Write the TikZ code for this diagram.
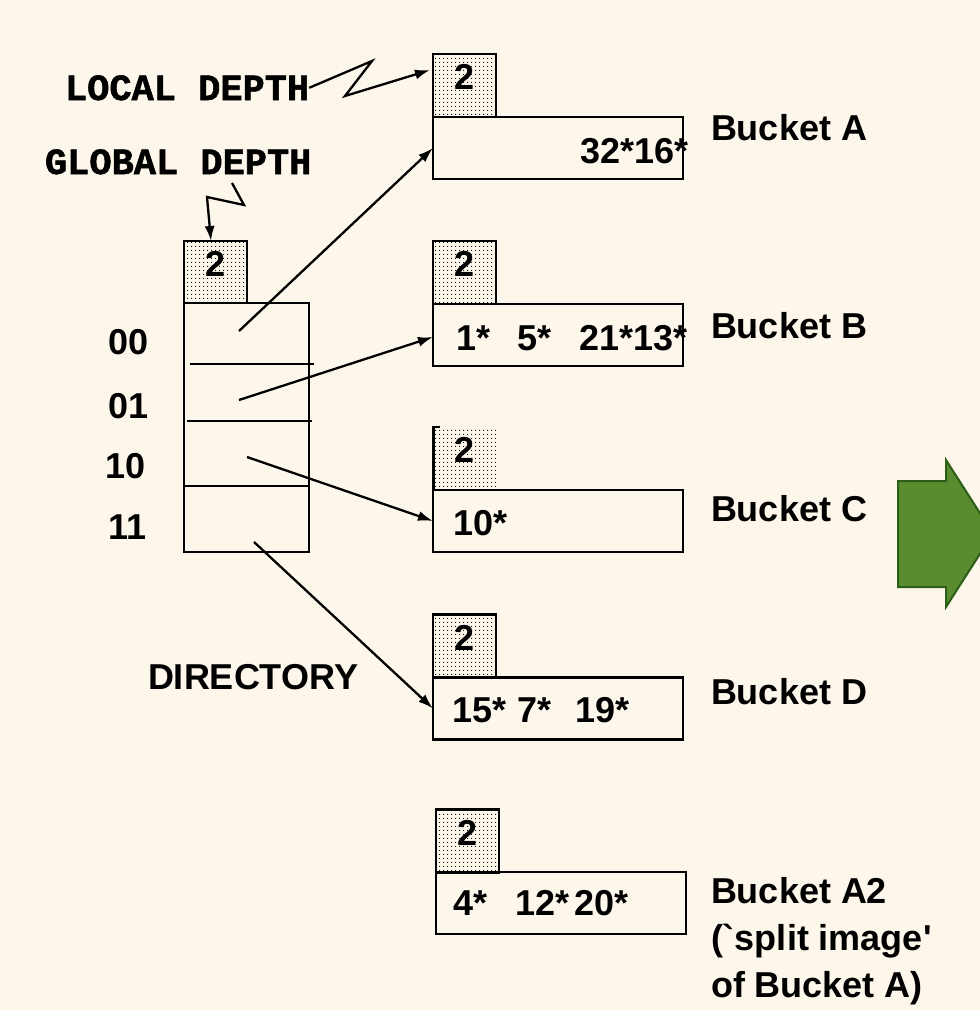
\documentclass[tikz,border=0pt]{standalone}
\usepackage{fontspec}
\setmainfont{Liberation Sans}
\newfontfamily\rawsans{Liberation Sans}
\newfontfamily\monofam{Liberation Mono}[BoldFeatures={FakeBold=1.5}]
\usetikzlibrary{patterns.meta,arrows.meta}
\definecolor{bg}{HTML}{FDF6EA}
\definecolor{arrowfill}{HTML}{5A8C2F}
\definecolor{arrowline}{HTML}{2C5E17}
\begin{document}
\begin{tikzpicture}[x=1pt,y=-1pt,
  every node/.style={font=\fontsize{36}{44}\selectfont\bfseries, inner sep=0pt, outer sep=0pt},
  box/.style={draw, line width=2.5pt, minimum width=250pt, minimum height=62pt},
  depth/.style={draw, line width=2.5pt, minimum width=63pt, minimum height=63pt, text depth=17pt, pattern={Dots[distance=4pt,radius=0.75pt]}},
  txt/.style={anchor=base west},
  ptr/.style={line width=2.3pt, -{Latex[length=15pt,width=10pt]}},
  mono/.style={anchor=base west, font=\monofam\bfseries\fontsize{37}{44}\selectfont}]
\fill[bg] (0,0) rectangle (980,1010);
\useasboundingbox (0,0) rectangle (980,1010);

% green arrow
\draw[fill=arrowfill, draw=arrowline, line width=2pt, line join=miter]
  (898,481) -- (946,481) -- (946,460) -- (993,533.5) -- (946,607) -- (946,587) -- (898,587) -- cycle;

% buckets
\node[depth] (dA) at (464.5,85.5) {2};
\node[box] (bA) at (558,148) {};
\node[depth] (dB) at (464.5,272.5) {2};
\node[box] (bB) at (558,335) {};
\node[depth, draw=none] (dC) at (465,458.5) {2};
\draw[line width=2.5pt] (dC.south west) -- (dC.north west) -- ++(6,0);
\node[box] (bC) at (558,521) {};
\node[depth] (dD) at (464.5,646) {2};
\node[box] (bD) at (558,708.5) {};
\node[depth] (dA2) at (467.5,841) {2};
\node[box] (bA2) at (561,903) {};

% bucket contents
\node[anchor=base east] (tA) at (689,163) {32*16*};
\node[txt] (tB1) at (456,350) {1*};
\node[txt] (tB2) at (517,350) {5*};
\node[txt] (tB3) at (579,350) {21*13*};
\node[txt] (tC1) at (453,535) {10*};
\node[txt] (tD1) at (452,722) {15*};
\node[txt] (tD2) at (517,722) {7*};
\node[txt] (tD3) at (575,722) {19*};
\node[txt] (tE1) at (453,915) {4*};
\node[txt] (tE2) at (515,915) {12*};
\node[txt] (tE3) at (574,915) {20*};

% bucket labels
\node[txt] (lA) at (711,140) {Bucket A};
\node[txt] (lB) at (711,338) {Bucket B};
\node[txt] (lC) at (711,521) {Bucket C};
\node[txt] (lD) at (711,704) {Bucket D};
\node[txt] (lE1) at (711,903) {Bucket A2};
\node[txt] (lE2) at (711,950) {\rawsans\bfseries (`split image'};
\node[txt] (lE3) at (711,997) {of Bucket A)};

% directory
\node[depth, minimum height=62pt] (dG) at (215.5,272) {2};
\node[draw, line width=2.5pt, minimum width=125pt, minimum height=249pt] (dir) at (246.5,427.5) {};
\draw[line width=2.5pt] (190,364) -- (314,364);
\draw[line width=2.5pt] (187,421) -- (312,421);
\draw[line width=2.5pt] (184,486) -- (309,486);
\node[txt] (k00) at (108,354) {00};
\node[txt] (k01) at (108,418) {01};
\node[txt] (k10) at (105,478) {10};
\node[txt] (k11) at (108,539) {11};
\node[txt] (dirl) at (148,689) {DIRECTORY};

% pointers
\coordinate (p0) at (239,331);
\coordinate (p1) at (239,400);
\coordinate (p2) at (247,457);
\coordinate (p3) at (254,542);
\draw[ptr] (p0) -- (bA.west);
\draw[ptr] (p1) -- ([yshift=-2]bB.west);
\draw[ptr] (p2) -- (bC.west);
\draw[ptr] (p3) -- (bD.west);

% depth labels
\node[mono] (ld) at (65,100) {LOCAL DEPTH};
\node[mono] (gd) at (45,174) {GLOBAL DEPTH};
\coordinate (g0) at (232,183);
\draw[ptr, line join=miter] (ld.east) -- (372,61) -- (345,96) -- ([shift={(-3,16)}]dA.north west);
\draw[ptr, line join=miter] (g0) -- (244,205) -- (207,197) -- ([xshift=-4.5]dG.north);
\end{tikzpicture}
\end{document}
